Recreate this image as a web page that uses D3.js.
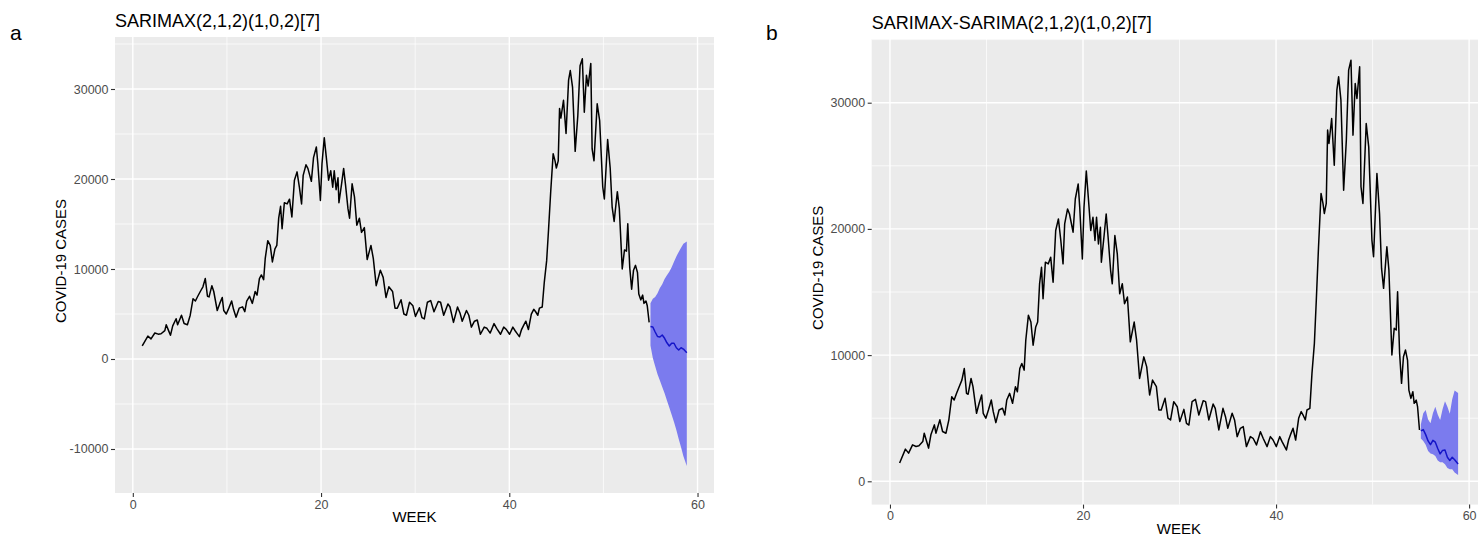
<!DOCTYPE html>
<html>
<head>
<meta charset="utf-8">
<script src="https://cdn.jsdelivr.net/npm/d3@7"></script>
<style>
  body { margin: 0; background: #fff; }
  text { font-family: "Liberation Sans", Arial, Helvetica, sans-serif; }
</style>
</head>
<body>
<svg id="chart" width="1478" height="536"></svg>
<script>
const obsWeek = [1.0, 1.6, 1.93, 2.34, 2.7, 3.0, 3.4, 3.55, 3.8, 4.0, 4.24, 4.6, 4.76, 5.17, 5.45, 5.8, 6.1, 6.4, 6.65, 6.9,
  7.17, 7.45, 7.7, 7.93, 8.1, 8.4, 8.6, 8.97, 9.24, 9.5, 9.66, 9.93, 10.2, 10.5, 10.7, 10.97, 11.3, 11.66, 11.9, 12.1,
  12.4, 12.7, 13.0, 13.2, 13.45, 13.66, 13.9, 14.07, 14.34, 14.6, 14.83, 15.1, 15.3, 15.5, 15.7, 15.86, 16.1, 16.4, 16.65, 16.9,
  17.17, 17.45, 17.7, 17.93, 18.1, 18.4, 18.6, 18.97, 19.2, 19.5, 19.66, 19.93, 20.1, 20.34, 20.55, 20.8, 21.03, 21.24, 21.4, 21.6,
  21.8, 21.9, 22.2, 22.4, 22.6, 22.86, 23.03, 23.3, 23.55, 23.8, 24.07, 24.3, 24.6, 24.9, 25.3, 25.55, 25.86, 26.3, 26.6, 26.9,
  27.2, 27.6, 27.86, 28.1, 28.5, 28.8, 29.07, 29.4, 29.76, 30.03, 30.45, 30.72, 30.97, 31.3, 31.65, 32.0, 32.45, 32.7, 33.03, 33.48,
  33.7, 34.07, 34.5, 34.76, 35.0, 35.45, 35.7, 35.97, 36.3, 36.6, 36.93, 37.34, 37.62, 37.97, 38.38, 38.66, 39.07, 39.41, 39.69, 40.03,
  40.38, 40.62, 40.8, 41.07, 41.3, 41.55, 41.76, 42.03, 42.34, 42.6, 42.8, 43.03, 43.2, 43.5, 43.72, 43.97, 44.17, 44.4, 44.66, 44.86,
  45.0, 45.2, 45.34, 45.48, 45.76, 46.03, 46.3, 46.48, 46.72, 47.0, 47.28, 47.52, 47.76, 47.97, 48.2, 48.38, 48.66, 48.8, 49.0, 49.34,
  49.6, 49.93, 50.1, 50.45, 50.72, 50.93, 51.14, 51.48, 51.69, 52.0, 52.24, 52.45, 52.59, 52.8, 53.0, 53.2, 53.41, 53.62, 53.76, 53.97,
  54.17, 54.31, 54.52, 54.66, 54.86];
const obsCases = [1450, 2550, 2235, 2890, 2760, 2810, 3150, 3810, 3150, 2630, 3680, 4470, 3810, 4870, 3945, 3810, 4870, 6700, 6440, 6970,
  7500, 8020, 8940, 6970, 6900, 8150, 7500, 5390, 6180, 6840, 5390, 5000, 5650, 6440, 5520, 4650, 5650, 5790, 5260, 6440,
  6970, 6180, 7500, 7100, 8940, 9340, 8810, 11180, 13150, 12620, 10780, 12230, 12620, 15650, 16960, 14470, 17360, 17230, 17760, 15780,
  19870, 20790, 19080, 17230, 20400, 21580, 21180, 19740, 22370, 23560, 21700, 17620, 21700, 24590, 22490, 19870, 20920, 19080, 20920, 18810,
  20130, 17360, 19600, 21180, 19340, 16700, 15650, 19470, 18020, 14860, 15650, 14070, 14600, 11050, 12620, 11180, 8150, 9860, 9070, 6840,
  8020, 7500, 5650, 5650, 6580, 5000, 4860, 6310, 5910, 4730, 5700, 4590, 4460, 6310, 6490, 5250, 6390, 6310, 4860, 6120,
  5780, 4070, 5780, 5120, 4200, 5390, 4860, 3540, 4200, 4330, 2750, 3540, 3410, 2880, 3930, 3410, 2750, 3540, 3270, 2750,
  3540, 3140, 2880, 2480, 3270, 3800, 4200, 3270, 4990, 5520, 5250, 4860, 5650, 5780, 8550, 10930, 14360, 18590, 22810, 22020,
  21220, 22020, 27830, 26770, 28750, 25050, 30990, 32050, 30200, 23070, 27030, 32580, 33370, 27430, 31520, 30330, 32840, 23340, 22020, 28350,
  26500, 19110, 17790, 24390, 21220, 16870, 15290, 18590, 16740, 10010, 12120, 11990, 15020, 10140, 7760, 9870, 10400, 9610, 7230, 6570,
  7100, 6180, 6440, 5910, 4070];

// forecast horizon
const fcWeek = [55.0, 55.25, 55.5, 55.75, 56.0, 56.25, 56.5, 56.75, 57.0, 57.25, 57.5, 57.75, 58.0, 58.25, 58.5, 58.86];
// panel a: SARIMAX
const meanA = [3600, 3550, 3000, 2500, 2450, 2670, 2300, 1800, 1450, 1750, 1750, 1250, 1000, 1250, 1100, 700];
const lowA  = [1500, 100, -800, -1700, -2400, -3100, -3800, -4600, -5400, -6200, -7000, -7900, -8900, -9800, -10800, -11900];
const highA = [6200, 6700, 6900, 7300, 7900, 8300, 8900, 9300, 9700, 10200, 10800, 11400, 11900, 12350, 12800, 13050];
// panel b: SARIMAX-SARIMA
const meanB = [4000, 4100, 3700, 3200, 2900, 3250, 3100, 2600, 2170, 2450, 2480, 1900, 1650, 1900, 1700, 1370];
const lowB  = [3400, 3200, 2900, 2400, 2200, 2150, 2000, 1650, 1500, 1500, 1350, 1050, 950, 950, 700, 500];
const highB = [4500, 5400, 5650, 4900, 4600, 5400, 5900, 5300, 4860, 5700, 6350, 5900, 5350, 6500, 7200, 7000];

const xTicks = [0, 20, 40, 60];
const xMinor = [10, 30, 50];
const yTicksA = [-10000, 0, 10000, 20000, 30000];
const yMinorA = [-5000, 5000, 15000, 25000, 35000];
const yTicksB = [0, 10000, 20000, 30000];
const yMinorB = [5000, 15000, 25000, 35000];

const titles = ["SARIMAX(2,1,2)(1,0,2)[7]", "SARIMAX-SARIMA(2,1,2)(1,0,2)[7]"];
const tags = ["a", "b"];

const svg = d3.select("#chart");
const xDomain = [-1.893, 61.75];

const panels = [
  { left: 115, right: 714, top: 37, bottom: 493, yDomain: [-14889, 35778], yTicks: yTicksA, yMinor: yMinorA,
    mean: meanA, low: lowA, high: highA, title: titles[0], tag: tags[0], tagX: 10 },
  { left: 871.7, right: 1486, top: 39, bottom: 504.6, yDomain: [-1846, 35048], yTicks: yTicksB, yMinor: yMinorB,
    mean: meanB, low: lowB, high: highB, title: titles[1], tag: tags[1], tagX: 766 }
];

panels.forEach(p => {
  const x = d3.scaleLinear().domain(xDomain).range([p.left, p.right]);
  const y = d3.scaleLinear().domain(p.yDomain).range([p.bottom, p.top]);
  const g = svg.append("g");

  g.append("rect")
    .attr("x", p.left).attr("y", p.top)
    .attr("width", p.right - p.left).attr("height", p.bottom - p.top)
    .attr("fill", "#EBEBEB");

  // minor grid
  g.selectAll(".ymin").data(p.yMinor).enter().append("line")
    .attr("x1", p.left).attr("x2", p.right)
    .attr("y1", d => y(d)).attr("y2", d => y(d))
    .attr("stroke", "#fff").attr("stroke-width", 0.7);
  g.selectAll(".xmin").data(xMinor).enter().append("line")
    .attr("y1", p.top).attr("y2", p.bottom)
    .attr("x1", d => x(d)).attr("x2", d => x(d))
    .attr("stroke", "#fff").attr("stroke-width", 0.7);
  // major grid
  g.selectAll(".ymaj").data(p.yTicks).enter().append("line")
    .attr("x1", p.left).attr("x2", p.right)
    .attr("y1", d => y(d)).attr("y2", d => y(d))
    .attr("stroke", "#fff").attr("stroke-width", 1.4);
  g.selectAll(".xmaj").data(xTicks).enter().append("line")
    .attr("y1", p.top).attr("y2", p.bottom)
    .attr("x1", d => x(d)).attr("x2", d => x(d))
    .attr("stroke", "#fff").attr("stroke-width", 1.4);

  // forecast band
  const band = d3.area()
    .x((d, i) => x(fcWeek[i]))
    .y0((d, i) => y(p.low[i]))
    .y1((d, i) => y(p.high[i]));
  g.append("path").datum(fcWeek).attr("d", band).attr("fill", "#7B7BEE");

  // observed series
  const line = d3.line().x(d => x(d[0])).y(d => y(d[1]));
  g.append("path").datum(d3.zip(obsWeek, obsCases)).attr("d", line)
    .attr("fill", "none").attr("stroke", "#000").attr("stroke-width", 1.5)
    .attr("stroke-linejoin", "round");

  // forecast mean
  g.append("path").datum(d3.zip(fcWeek, p.mean)).attr("d", line)
    .attr("fill", "none").attr("stroke", "#1515C8").attr("stroke-width", 1.5)
    .attr("stroke-linejoin", "round");

  // axes
  const xAxis = g.append("g")
    .attr("transform", `translate(0,${p.bottom})`)
    .call(d3.axisBottom(x).tickValues(xTicks).tickSize(4).tickPadding(3));
  const yAxis = g.append("g")
    .attr("transform", `translate(${p.left},0)`)
    .call(d3.axisLeft(y).tickValues(p.yTicks).tickSize(4).tickPadding(2.5).tickFormat(d => String(d)));
  [xAxis, yAxis].forEach(a => {
    a.select(".domain").remove();
    a.selectAll(".tick line").attr("stroke", "#333").attr("stroke-width", 1.1);
    a.selectAll(".tick text").attr("fill", "#4D4D4D").style("font-size", "12.5px")
      .style("font-family", '"Liberation Sans", Arial, sans-serif');
  });

  // titles
  g.append("text").attr("x", p.left).attr("y", p.top - 10)
    .style("font-size", "18px").attr("fill", "#000").text(p.title);
  g.append("text").attr("x", p.tagX).attr("y", 40)
    .style("font-size", "21px").attr("fill", "#000").text(p.tag);
  g.append("text").attr("x", (p.left + p.right) / 2).attr("y", p.bottom + 29)
    .attr("text-anchor", "middle").style("font-size", "15px").text("WEEK");
  g.append("text")
    .attr("transform", `translate(${p.left - 49},${(p.top + p.bottom) / 2 - 4}) rotate(-90)`)
    .attr("text-anchor", "middle").style("font-size", "15px").text("COVID-19 CASES");
});
</script>
</body>
</html>
